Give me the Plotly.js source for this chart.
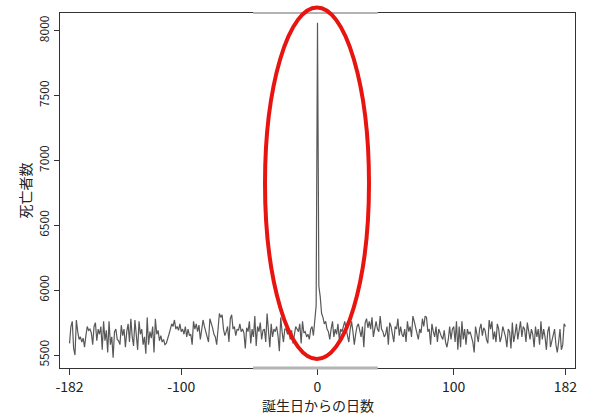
<!DOCTYPE html>
<html>
<head>
<meta charset="utf-8">
<script src="https://cdn.plot.ly/plotly-3.0.1.min.js"></script>
<style>html,body{margin:0;padding:0;background:#fff;}#chart{width:600px;height:418px;}</style>
</head>
<body>
<div id="chart"></div>
<script>
// Days relative to birthday: -182 ... 182 (one value per day)
var startDay = -182;
var deaths = [
  5590, 5720, 5760, 5550, 5500, 5770, 5680, 5620, 5640, 5600, 5630, 5560, 5650, 5720, 5690, 5700, 5670, 5580, 5720, 5750,
  5610, 5700, 5660, 5720, 5540, 5760, 5610, 5690, 5520, 5760, 5580, 5640, 5480, 5680, 5700, 5620, 5610, 5580, 5730, 5650,
  5700, 5560, 5680, 5740, 5600, 5780, 5640, 5570, 5770, 5620, 5540, 5760, 5660, 5700, 5580, 5640, 5510, 5790, 5580, 5680,
  5630, 5720, 5520, 5780, 5660, 5690, 5610, 5650, 5600, 5620, 5580, 5590, 5620, 5660, 5700, 5740, 5720, 5770, 5700, 5720,
  5690, 5740, 5680, 5700, 5660, 5720, 5640, 5700, 5650, 5660, 5580, 5760, 5700, 5740, 5680, 5730, 5620, 5700, 5770, 5720,
  5680, 5660, 5600, 5780, 5750, 5710, 5660, 5640, 5580, 5700, 5820, 5790, 5810, 5700, 5650, 5680, 5720, 5600, 5780, 5810,
  5700, 5720, 5650, 5700, 5690, 5740, 5680, 5700, 5670, 5550, 5710, 5680, 5760, 5590, 5700, 5640, 5800, 5570, 5720, 5680,
  5750, 5620, 5690, 5700, 5600, 5820, 5680, 5560, 5740, 5640, 5700, 5680, 5720, 5650, 5530, 5790, 5680, 5600, 5700, 5700,
  5660, 5680, 5620, 5690, 5590, 5650, 5720, 5700, 5680, 5740, 5590, 5760, 5670, 5680, 5640, 5660, 5620, 5700, 5720, 5650,
  5780, 5880,
  8060,
  6030, 5950, 5820, 5790, 5740, 5760, 5700, 5680, 5620, 5700, 5760, 5640, 5700, 5660, 5740, 5620, 5700, 5680, 5720, 5760,
  5700, 5650, 5600, 5700, 5760, 5680, 5580, 5660, 5720, 5740, 5700, 5640, 5720, 5560, 5750, 5780, 5710, 5760, 5700, 5790,
  5640, 5720, 5760, 5700, 5680, 5800, 5700, 5680, 5640, 5660, 5720, 5580, 5750, 5720, 5660, 5600, 5720, 5700, 5780, 5650,
  5720, 5660, 5640, 5700, 5600, 5760, 5680, 5720, 5640, 5800, 5760, 5720, 5660, 5620, 5700, 5670, 5780, 5720, 5800, 5790,
  5680, 5700, 5580, 5740, 5680, 5640, 5720, 5600, 5700, 5660, 5640, 5620, 5690, 5600, 5560, 5620, 5720, 5620, 5700, 5720,
  5600, 5760, 5540, 5720, 5560, 5760, 5620, 5700, 5580, 5700, 5660, 5680, 5640, 5600, 5520, 5720, 5660, 5600, 5700, 5740,
  5650, 5710, 5690, 5620, 5590, 5770, 5700, 5760, 5620, 5680, 5600, 5740, 5700, 5600, 5640, 5720, 5680, 5640, 5560, 5700,
  5680, 5550, 5750, 5600, 5660, 5740, 5620, 5700, 5760, 5640, 5720, 5700, 5600, 5750, 5680, 5620, 5700, 5660, 5560, 5720,
  5640, 5700, 5580, 5760, 5620, 5700, 5640, 5540, 5680, 5720, 5560, 5600, 5640, 5700, 5580, 5520, 5600, 5700, 5540, 5580,
  5740, 5720
];
var xTicks = [-182, -100, 0, 100, 182];
var yTicks = [5500, 6000, 6500, 7000, 7500, 8000];
var xTitle = '誕生日からの日数';
var yTitle = '死亡者数';

var font = '"Noto Sans CJK JP", "Noto Sans", sans-serif';

var trace = {
  type: 'scatter',
  mode: 'lines',
  x0: startDay,
  dx: 1,
  y: deaths,
  line: {color: '#585858', width: 1.2},
  hoverinfo: 'x+y'
};

var layout = {
  width: 600,
  height: 418,
  margin: {l: 60, r: 25, t: 13, b: 50},
  paper_bgcolor: '#ffffff',
  plot_bgcolor: '#ffffff',
  showlegend: false,
  font: {family: font, color: '#222222'},
  xaxis: {
    range: [-189, 189],
    tickvals: xTicks,
    ticktext: xTicks.map(String),
    ticks: 'outside',
    ticklen: 6,
    tickcolor: '#333333',
    showline: true,
    mirror: true,
    linecolor: '#333333',
    linewidth: 1,
    showgrid: false,
    zeroline: false,
    tickfont: {size: 14, family: font, color: '#222222'}
  },
  yaxis: {
    range: [5400, 8136],
    tickvals: yTicks,
    ticktext: yTicks.map(String),
    tickangle: -90,
    ticks: 'outside',
    ticklen: 5,
    tickcolor: '#333333',
    showline: true,
    mirror: true,
    linecolor: '#333333',
    linewidth: 1,
    showgrid: false,
    zeroline: false,
    tickfont: {size: 12, family: font, color: '#222222'}
  },
  annotations: [
    {text: xTitle, xref: 'paper', yref: 'paper', x: 0.5, y: (368 - 405) / 355,
     xanchor: 'center', yanchor: 'middle', showarrow: false,
     font: {size: 14, family: font, color: '#222222'}},
    {text: yTitle, xref: 'paper', yref: 'paper', x: (24 - 60) / 515, y: 0.5,
     xanchor: 'center', yanchor: 'middle', textangle: -90, showarrow: false,
     font: {size: 14, family: font, color: '#222222'}}
  ],
  shapes: [
    {type: 'line', xref: 'paper', yref: 'paper', x0: 0.375, x1: 0.617, y0: 1, y1: 1,
     line: {color: '#b4b4b4', width: 2}},
    {type: 'line', xref: 'paper', yref: 'paper', x0: 0.375, x1: 0.617, y0: 0, y1: 0,
     line: {color: '#b4b4b4', width: 3}},
    {type: 'circle', xref: 'paper', yref: 'paper',
     x0: (265 - 60) / 515, x1: (369 - 60) / 515,
     y0: (368 - 359) / 355, y1: (368 - 7.5) / 355,
     line: {color: '#e8140f', width: 4}, fillcolor: 'rgba(0,0,0,0)'}
  ]
};

Plotly.newPlot('chart', [trace], layout, {displayModeBar: false, staticPlot: true});
</script>
</body>
</html>
